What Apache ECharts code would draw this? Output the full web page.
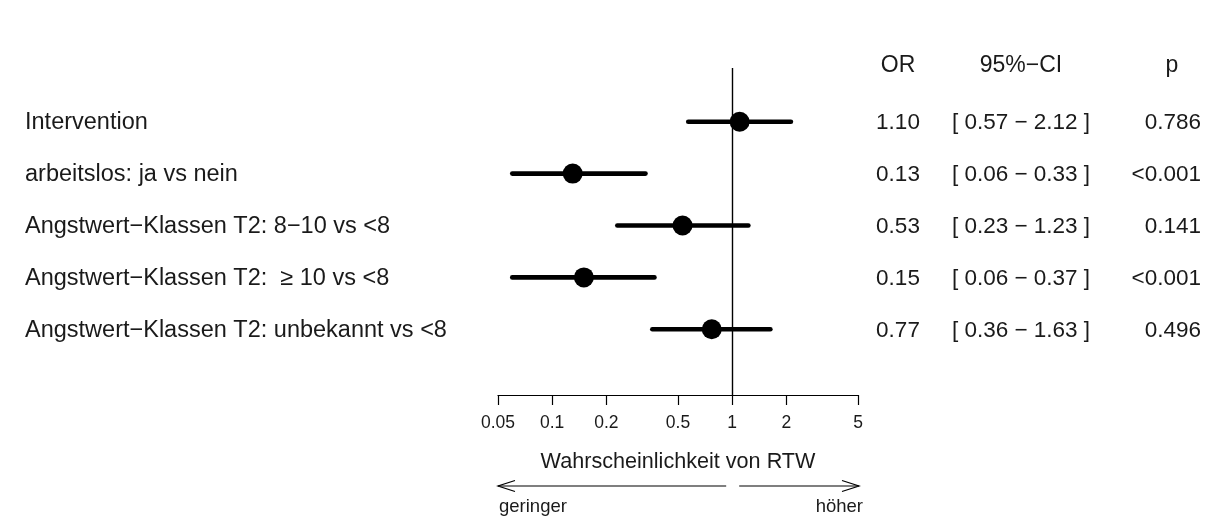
<!DOCTYPE html>
<html>
<head>
<meta charset="utf-8">
<script src="https://cdn.jsdelivr.net/npm/echarts@6/dist/echarts.min.js"></script>
<style>
  html, body { margin: 0; padding: 0; background: #ffffff; }
  #chart { width: 1213px; height: 525px; }
</style>
</head>
<body>
<div id="chart"></div>
<script>
// Logistic regression results: odds ratios for return to work (RTW)
const rowLabels = [
  'Intervention',
  'arbeitslos: ja vs nein',
  'Angstwert\u2212Klassen T2: 8\u221210 vs <8',
  'Angstwert\u2212Klassen T2:  \u2265 10 vs <8',
  'Angstwert\u2212Klassen T2: unbekannt vs <8'
];
const oddsRatio = [1.10, 0.13, 0.53, 0.15, 0.77];
const ciLower   = [0.57, 0.06, 0.23, 0.06, 0.36];
const ciUpper   = [2.12, 0.33, 1.23, 0.37, 1.63];
const pValues   = ['0.786', '<0.001', '0.141', '<0.001', '0.496'];
const tickValues = [0.05, 0.1, 0.2, 0.5, 1, 2, 5];
const tickLabels = ['0.05', '0.1', '0.2', '0.5', '1', '2', '5'];
const columnHeaders = ['OR', '95%\u2212CI', 'p'];
const axisTitle = 'Wahrscheinlichkeit von RTW';
const directionLabels = ['geringer', 'h\u00f6her'];

const FONT = '"Liberation Sans", Arial, sans-serif';
const TEXT = '#1a1a1a';
const lg = v => Math.log10(v);

const chart = echarts.init(document.getElementById('chart'), null, { renderer: 'canvas' });

const logTicks = tickValues.map(lg);

chart.setOption({
  backgroundColor: '#ffffff',
  animation: false,
  grid: { left: 498, right: 355, top: 68, bottom: 130, containLabel: false },
  xAxis: {
    type: 'value',
    min: lg(0.05),
    max: lg(5),
    splitLine: { show: false },
    axisLine: { show: true, onZero: false, lineStyle: { color: '#000', width: 1.2 } },
    axisTick: { show: true, length: 10, customValues: logTicks, lineStyle: { color: '#000', width: 1.2 } },
    axisLabel: {
      customValues: logTicks,
      margin: 19,
      color: TEXT,
      fontFamily: FONT,
      fontSize: 17.5,
      formatter: v => {
        const i = logTicks.findIndex(t => Math.abs(t - v) < 1e-6);
        return i >= 0 ? tickLabels[i] : '';
      }
    },
    name: axisTitle,
    nameLocation: 'middle',
    nameGap: 56,
    nameTextStyle: { color: TEXT, fontFamily: FONT, fontSize: 21.6 }
  },
  yAxis: {
    type: 'value',
    inverse: true,
    min: -1.035,
    max: 5.266,
    show: false
  },
  series: [
    {
      // confidence intervals
      type: 'custom',
      silent: true,
      data: oddsRatio.map((_, i) => [lg(ciLower[i]), lg(ciUpper[i]), i]),
      renderItem: (params, api) => {
        const a = api.coord([api.value(0), api.value(2)]);
        const b = api.coord([api.value(1), api.value(2)]);
        return {
          type: 'line',
          shape: { x1: a[0], y1: a[1], x2: b[0], y2: b[1] },
          style: { stroke: '#000', lineWidth: 4.6, lineCap: 'round' }
        };
      },
      markLine: {
        silent: true,
        symbol: 'none',
        label: { show: false },
        lineStyle: { color: '#000', width: 1.4, type: 'solid' },
        data: [{ xAxis: lg(1) }]
      },
      z: 2
    },
    {
      // point estimates
      type: 'scatter',
      silent: true,
      symbol: 'circle',
      symbolSize: 20,
      itemStyle: { color: '#000', opacity: 1 },
      data: oddsRatio.map((v, i) => [lg(v), i]),
      z: 3
    }
  ]
});

// Table text and direction arrows, placed on the same scales
const yOf = i => chart.convertToPixel({ yAxisIndex: 0 }, i);
const xOf = v => chart.convertToPixel({ xAxisIndex: 0 }, lg(v));

const txt = (text, x, y, align, size) => ({
  type: 'text',
  silent: true,
  x: x, y: y,
  style: {
    text: text,
    fill: TEXT,
    font: size + 'px ' + FONT,
    textAlign: align,
    textVerticalAlign: 'middle'
  }
});

const graphics = [];
const headerY = 66;
graphics.push(txt(columnHeaders[0], 898, headerY, 'center', 23));
graphics.push(txt(columnHeaders[1], 1021, headerY, 'center', 23));
graphics.push(txt(columnHeaders[2], 1172, headerY, 'center', 23));

rowLabels.forEach((label, i) => {
  const y = yOf(i) + 1;
  graphics.push(txt(label, 25, y, 'left', 23.5));
  graphics.push(txt(oddsRatio[i].toFixed(2), 898, y, 'center', 22.5));
  graphics.push(txt('[ ' + ciLower[i].toFixed(2) + ' \u2212 ' + ciUpper[i].toFixed(2) + ' ]', 1021, y, 'center', 22.5));
  graphics.push(txt(pValues[i], 1201, y, 'right', 22.5));
});

// direction arrows below the axis title
const arrowY = 486;
const xLeft = xOf(0.05), xOne = xOf(1), xRight = xOf(5);
const head = 17, half = 5.5;
const stroke = { stroke: '#000', lineWidth: 1.2, fill: null };
graphics.push({ type: 'line', silent: true, shape: { x1: xLeft, y1: arrowY, x2: xOne - 6, y2: arrowY }, style: stroke });
graphics.push({ type: 'polyline', silent: true, shape: { points: [[xLeft + head, arrowY - half], [xLeft, arrowY], [xLeft + head, arrowY + half]] }, style: stroke });
graphics.push({ type: 'line', silent: true, shape: { x1: xOne + 7, y1: arrowY, x2: xRight + 1, y2: arrowY }, style: stroke });
graphics.push({ type: 'polyline', silent: true, shape: { points: [[xRight + 1 - head, arrowY - half], [xRight + 1, arrowY], [xRight + 1 - head, arrowY + half]] }, style: stroke });
graphics.push(txt(directionLabels[0], xLeft + 1, 507, 'left', 18.5));
graphics.push(txt(directionLabels[1], xRight + 5, 507, 'right', 18.5));

chart.setOption({ graphic: graphics });
</script>
</body>
</html>
